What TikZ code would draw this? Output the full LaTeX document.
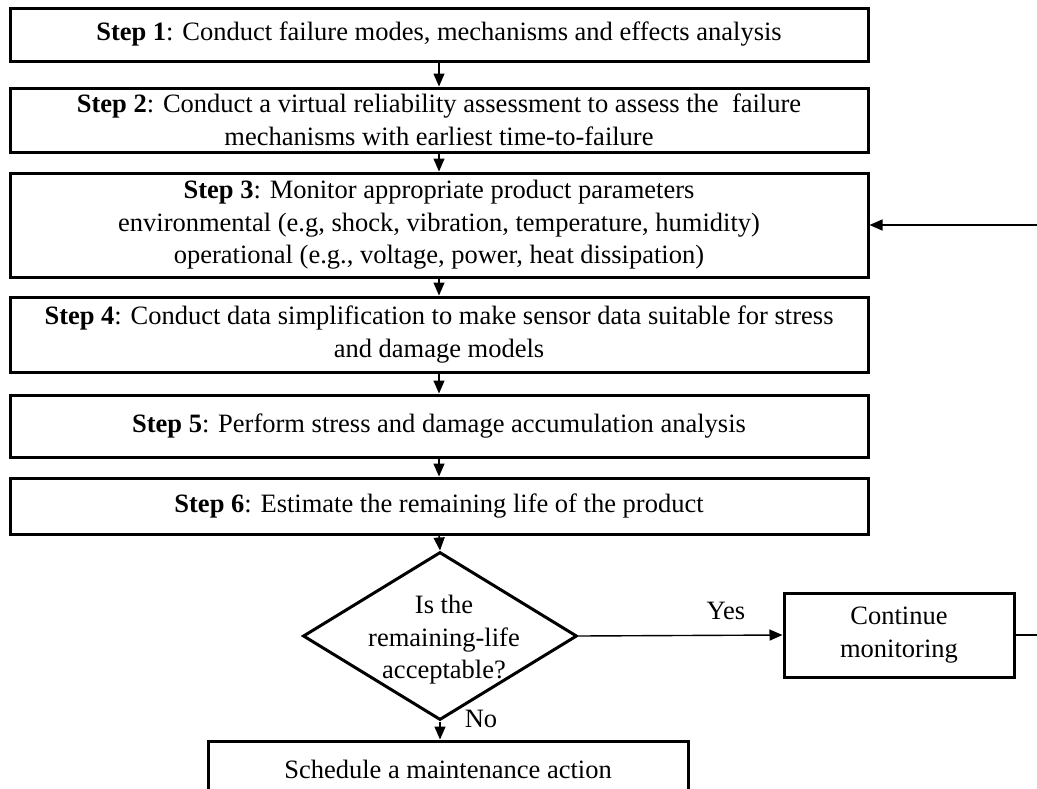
\documentclass[tikz,border=0pt]{standalone}
\usepackage{fontspec}
\setmainfont{Liberation Serif}
\usetikzlibrary{arrows.meta,shapes.geometric}
\begin{document}
\begin{tikzpicture}[x=1pt,y=-1pt,
  every node/.style={font=\fontsize{26.5}{32.5}\selectfont},
  stepbox/.style={draw, line width=3pt, minimum width=858pt, inner sep=0pt, align=center},
  plainbox/.style={draw, line width=3pt, inner sep=0pt, align=center},
  conn/.style={line width=1.4pt, -{Triangle[width=11pt,length=13pt]}},
  lbl/.style={inner sep=0pt}
]
\useasboundingbox (0,0) rectangle (1037,788);
\clip (0,0) rectangle (1037,788);
\node[stepbox, minimum height=53pt] (s1) at (439,34.5) {\textbf{Step 1}: Conduct failure modes, mechanisms and effects analysis};
\node[stepbox, minimum height=64pt] (s2) at (439,120) {\textbf{Step 2}: Conduct a virtual reliability assessment to assess the\ \ failure\\mechanisms with earliest time-to-failure};
\node[stepbox, minimum height=104pt] (s3) at (439,225) {\textbf{Step 3}: Monitor appropriate product parameters\\environmental (e.g, shock, vibration, temperature, humidity)\\operational (e.g., voltage, power, heat dissipation)};
\node[stepbox, minimum height=75pt] (s4) at (439,334.5) {\textbf{Step 4}: Conduct data simplification to make sensor data suitable for stress\\and damage models};
\node[stepbox, minimum height=62pt] (s5) at (439,426) {\textbf{Step 5}: Perform stress and damage accumulation analysis};
\node[stepbox, minimum height=56pt] (s6) at (439,506) {\textbf{Step 6}: Estimate the remaining life of the product};
\node[draw, diamond, line width=3pt, minimum width=274pt, minimum height=168pt, inner sep=0pt] (d) at (440,636) {};
\node[lbl, align=center] (dq) at (444,640) {Is the\\remaining-life\\acceptable?};
\node[plainbox, minimum width=230pt, minimum height=84pt] (cm) at (899,635) {Continue\\monitoring};
\node[plainbox, minimum width=480pt, minimum height=56pt] (sm) at (448,769) {Schedule a maintenance action};
\node[lbl] (yes) at (726,611) {Yes};
\node[lbl] (no) at (481,719) {No};
\draw[conn] (s1.south) -- (s2.north);
\draw[conn] (s2.south) -- (s3.north);
\draw[conn] (s3.south) -- (s4.north);
\draw[conn] (s4.south) -- (s5.north);
\draw[conn] (s5.south) -- (s6.north);
\draw[conn] (s6.south) -- (d.north);
\draw[conn] (d.east) -- (cm.west);
\draw[conn] (d.south) -- (d.south |- sm.north);
\draw[conn] (cm.east) -- ++(50,0) |- (s3.east);
\end{tikzpicture}
\end{document}
